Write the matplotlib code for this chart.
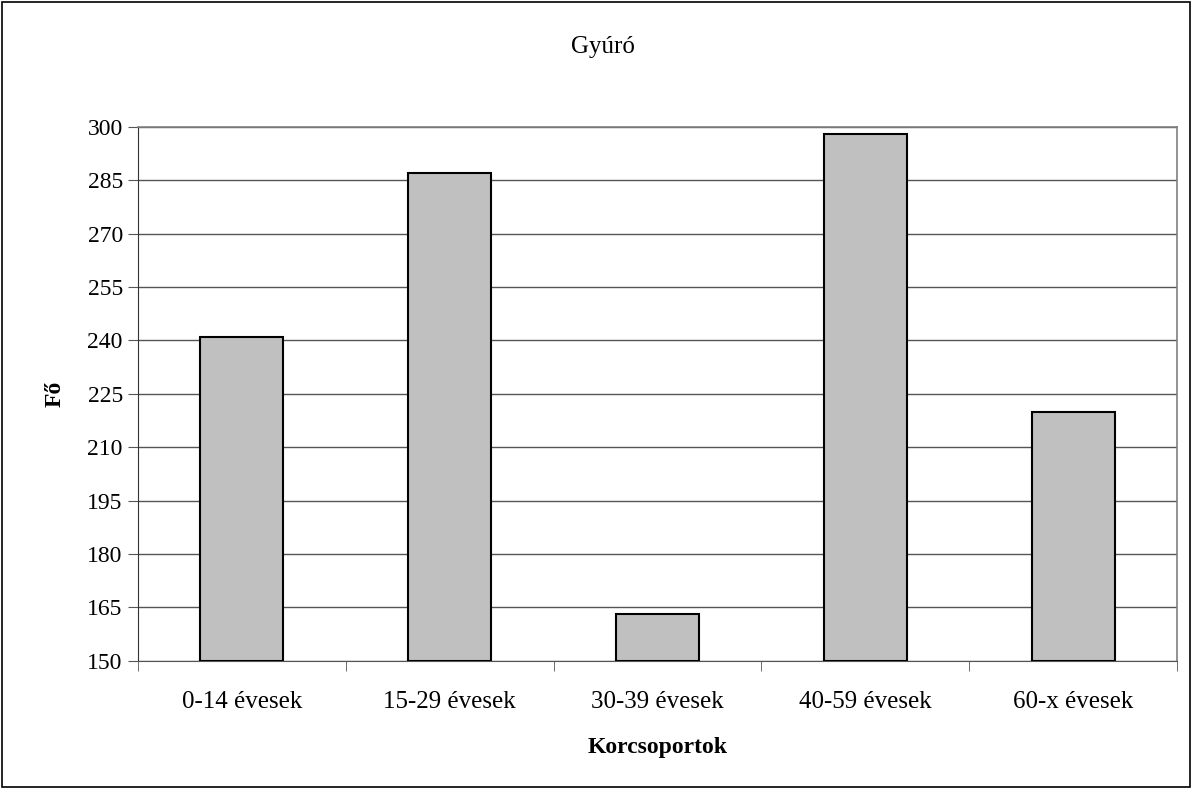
import matplotlib.pyplot as plt
from matplotlib.patches import Rectangle

categories = ['0-14 évesek', '15-29 évesek', '30-39 évesek', '40-59 évesek', '60-x évesek']
values = [241, 287, 163, 298, 220]
yticks = list(range(150, 301, 15))

plt.rcParams['font.family'] = ['Liberation Serif', 'DejaVu Serif']

fig = plt.figure(figsize=(11.92, 7.89), dpi=100)
ax = fig.add_axes([0.1158, 0.1626, 0.8716, 0.6768])

x = list(range(len(categories)))
ax.bar(x, [v - 150 for v in values], bottom=150, width=0.4,
       color='#c0c0c0', edgecolor='black', linewidth=1.5, zorder=3)

ax.set_xlim(-0.5, len(categories) - 0.5)
ax.set_ylim(150, 300)
ax.set_yticks(yticks)
ax.set_yticklabels([str(t) for t in yticks], fontsize=17)
ax.yaxis.grid(True, color='#555555', linewidth=1.0, zorder=0)

# category labels without ticks, tick marks between categories
ax.set_xticks(x)
ax.set_xticklabels(categories, fontsize=18)
ax.tick_params(axis='x', length=0, pad=22)
ax.set_xticks([i + 0.5 for i in range(-1, len(categories))], minor=True)
ax.tick_params(axis='x', which='minor', length=7, direction='out', color='#555555')
ax.tick_params(axis='y', length=7, direction='out', color='#555555', pad=4)

for side in ['top', 'right']:
    ax.spines[side].set_color('#808080')
    ax.spines[side].set_linewidth(1.2)
ax.spines['left'].set_color('#333333')
ax.spines['bottom'].set_color('#555555')

ax.set_ylabel('Fő', fontsize=17, fontweight='bold')
ax.yaxis.set_label_coords(-0.0695, 0.5)
ax.set_xlabel('Korcsoportok', fontsize=17, fontweight='bold')
ax.xaxis.set_label_coords(0.5, -0.143)
fig.text(0.506, 0.94, 'Gyúró', fontsize=18, ha='center', va='center')

# outer chart frame
fig.patches.append(Rectangle((0.002, 0.002), 0.996, 0.996, transform=fig.transFigure,
                             fill=False, edgecolor='black', linewidth=1.2))

fig.savefig('out.png', dpi=100)
